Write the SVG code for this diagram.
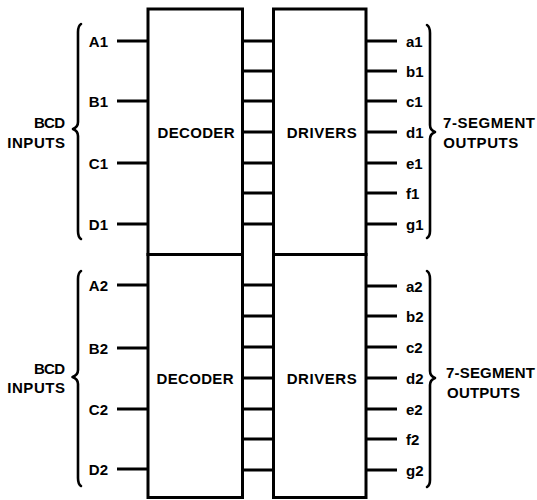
<svg xmlns="http://www.w3.org/2000/svg" width="537" height="500" viewBox="0 0 537 500">
<style>
.box{fill:#fff;stroke:#000;stroke-width:3}
.ln{stroke:#000;stroke-width:3;fill:none}
.br{stroke:#000;stroke-width:2.6;fill:none;stroke-linecap:round;stroke-linejoin:round}
text{font-family:"Liberation Sans Narrow","Liberation Sans",Arial,sans-serif;font-weight:bold;font-size:15px;fill:#000}
.e{text-anchor:end}
.m{text-anchor:middle}
</style>
<rect width="537" height="500" fill="#fff"/>
<g id="decoder1"><rect class="box" x="148" y="9" width="94.5" height="245.5"/><text class="m" x="196" y="138.3" textLength="77">DECODER</text></g>
<g id="drivers1"><rect class="box" x="273.5" y="9" width="92.5" height="245.5"/><text class="m" x="321.7" y="138.3" textLength="70">DRIVERS</text></g>
<g id="decoder2"><rect class="box" x="148" y="254.5" width="94.5" height="243"/><text class="m" x="195" y="383.5" textLength="77">DECODER</text></g>
<g id="drivers2"><rect class="box" x="273.5" y="254.5" width="92.5" height="243"/><text class="m" x="321.7" y="384" textLength="70">DRIVERS</text></g>
<g id="connectors">
<path class="ln" d="M117 41H148M117 101H148M117 163H148M117 224H148"/>
<path class="ln" d="M242.5 41H273.5M242.5 71H273.5M242.5 101H273.5M242.5 132H273.5M242.5 163H273.5M242.5 193H273.5M242.5 224H273.5"/>
<path class="ln" d="M366 41H397M366 71H397M366 101H397M366 132H397M366 163H397M366 193H397M366 224H397"/>
<path class="ln" d="M117 285H148M117 348H148M117 409H148M117 469H148"/>
<path class="ln" d="M242.5 285H273.5M242.5 316H273.5M242.5 347H273.5M242.5 378H273.5M242.5 409H273.5M242.5 439H273.5M242.5 470H273.5"/>
<path class="ln" d="M366 286H397M366 316H397M366 347H397M366 378H397M366 409H397M366 439H397M366 470H397"/>
</g>
<g id="braces">
<path class="br" d="M81 24Q78 26 78 32V122Q78 127 73 129Q78 131 78 136V231Q78 237 81 239"/>
<path class="br" d="M427 25Q430 27 430 33V125Q430 130 435 132Q430 134 430 139V231Q430 236 427 238"/>
<path class="br" d="M81 271Q78 273 78 279V370Q78 375 72.5 377Q78 379 78 384V478Q78 484 81 486"/>
<path class="br" d="M427 271Q430 273 430 279V371Q430 376 435 378Q430 380 430 385V480Q430 485 427 487"/>
</g>
<g id="labels-in1">
<text class="e" x="108" y="46.5">A1</text>
<text class="e" x="108" y="106.5">B1</text>
<text class="e" x="108" y="168.5">C1</text>
<text class="e" x="108" y="229.5">D1</text>
<text class="e" x="65" y="128" textLength="31">BCD</text>
<text class="e" x="65" y="147.7" textLength="57.7">INPUTS</text>
</g>
<g id="labels-out1">
<text x="406" y="46.5">a1</text>
<text x="406" y="76.5">b1</text>
<text x="406" y="106.5">c1</text>
<text x="406" y="137.5">d1</text>
<text x="406" y="168.5">e1</text>
<text x="406" y="198.5">f1</text>
<text x="406" y="229.5">g1</text>
<text x="443" y="128.3" textLength="92">7-SEGMENT</text>
<text x="443.3" y="148.3" textLength="75">OUTPUTS</text>
</g>
<g id="labels-in2">
<text class="e" x="108" y="290.5">A2</text>
<text class="e" x="108" y="353.5">B2</text>
<text class="e" x="108" y="414.5">C2</text>
<text class="e" x="108" y="474.5">D2</text>
<text class="e" x="65" y="374" textLength="31">BCD</text>
<text class="e" x="65" y="393.3" textLength="57.7">INPUTS</text>
</g>
<g id="labels-out2">
<text x="406" y="291.5">a2</text>
<text x="406" y="321.5">b2</text>
<text x="406" y="352.5">c2</text>
<text x="406" y="383.5">d2</text>
<text x="406" y="414.5">e2</text>
<text x="406" y="444.5">f2</text>
<text x="406" y="475.5">g2</text>
<text x="446" y="377.5" textLength="89">7-SEGMENT</text>
<text x="447" y="397.5" textLength="73">OUTPUTS</text>
</g>
</svg>
